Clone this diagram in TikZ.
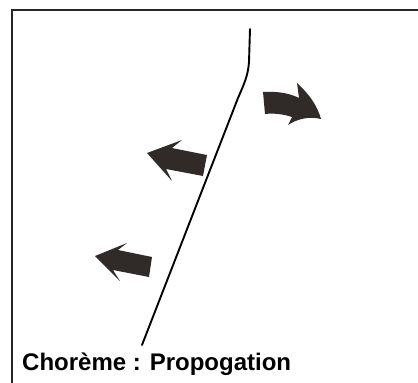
\documentclass[tikz,border=0pt]{standalone}
\usepackage{fontspec}
\setmainfont{Liberation Sans}
\usetikzlibrary{positioning}

\definecolor{flecheFonce}{HTML}{302B29}

\tikzset{
	fleche/.style={fill=flecheFonce, draw=none},
	front/.style={line width=1.9pt, black, line cap=round},
	cadre/.style={line width=1.5pt, black!85}
}

\begin{document}
\begin{tikzpicture}[x=1pt, y=-1pt]
	% parameters
	\def\W{418} % width
	\def\H{383} % height

	% fixed frame of the picture
	\useasboundingbox (0,0) rectangle (\W,\H);

	% open frame: top and left only
	\draw[cadre] (12,\H) -- (12,10) -- (\W,10);

	% propagation front
	\draw[front] (250,29) -- (249,62)
		.. controls (248,76) and (244,84) .. (238,98) -- (142,345);

	% curved arrow, right of the front
	\fill[fleche] (263,92) .. controls (280,91) and (291,94) .. (299,98)
		-- (297,83) .. controls (309,94) and (317,105) .. (321,119)
		.. controls (309,116) and (297,119) .. (288,125)
		-- (292,117) .. controls (283,114) and (273,113) .. (265,114) -- cycle;

	% arrows, left of the front
	\fill[fleche] (147,153) -- (182,140) -- (172,148) -- (207,155)
		-- (203,176) -- (166,169) -- (172,181) -- cycle;
	\fill[fleche] (95,256) -- (127,243) -- (118,250) -- (152,257)
		-- (149,277) -- (113,270) -- (120,281) -- cycle;

	% caption
	\node[anchor=base west, inner sep=0pt, font=\fontsize{24}{28}\selectfont\bfseries]
		(titre) at (22,370) {Chorème : Propogation};
\end{tikzpicture}
\end{document}
